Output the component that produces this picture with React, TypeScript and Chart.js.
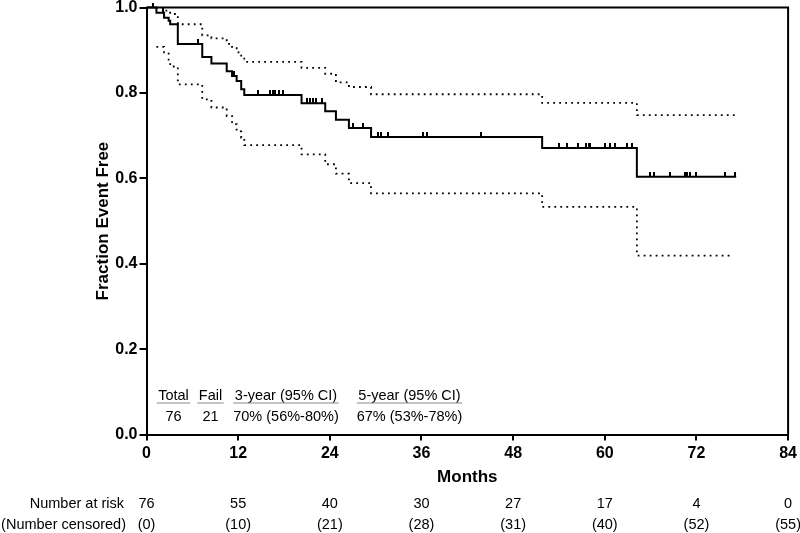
import { useEffect, useRef } from "react";
import { Chart, registerables } from "chart.js";

Chart.register(...registerables);

// ---- Data ----
const months = [0, 12, 24, 36, 48, 60, 72, 84];
const numberAtRisk = [76, 55, 40, 30, 27, 17, 4, 0];
const numberCensored = [0, 10, 21, 28, 31, 40, 52, 55];

const survTime = [0, 1.3, 2.3, 2.9, 3.1, 4.1, 7.3, 8.5, 10.5, 11.2, 11.8, 12.4, 12.8, 20.3, 23.4, 24.8, 26.5, 29.4, 51.8, 64.2, 77.2];
const survProb = [1.0, 0.988, 0.976, 0.969, 0.961, 0.915, 0.884, 0.869, 0.851, 0.84, 0.828, 0.809, 0.795, 0.776, 0.757, 0.737, 0.718, 0.697, 0.671, 0.604, 0.604];

const upperTime = [1.3, 2.3, 3.1, 4.1, 7.3, 8.5, 10.5, 11.2, 11.8, 12.4, 12.8, 20.3, 23.4, 24.8, 26.5, 29.4, 51.8, 64.2, 77.0];
const upperProb = [1.0, 0.993, 0.985, 0.961, 0.935, 0.928, 0.915, 0.905, 0.895, 0.885, 0.873, 0.859, 0.845, 0.825, 0.814, 0.797, 0.777, 0.748, 0.748];

const lowerTime = [1.3, 2.3, 2.9, 3.1, 4.1, 7.3, 8.5, 10.5, 11.2, 11.8, 12.4, 12.8, 20.3, 23.4, 24.8, 26.5, 29.4, 51.8, 64.2, 76.6];
const lowerProb = [0.908, 0.895, 0.878, 0.862, 0.82, 0.785, 0.766, 0.746, 0.727, 0.71, 0.695, 0.678, 0.656, 0.633, 0.611, 0.589, 0.565, 0.533, 0.419, 0.419];

const censorTimes = [0.9, 2.1, 6.8, 11.4, 14.6, 16.2, 16.5, 16.8, 17.3, 17.9, 21.0, 21.4, 21.8, 22.2, 23.0, 27.0, 28.3, 30.3, 30.7, 31.6, 36.2, 36.7, 43.8, 54.0, 55.0, 56.5, 57.6, 57.9, 58.1, 60.0, 60.7, 61.4, 62.9, 63.5, 65.9, 66.4, 68.5, 70.5, 70.8, 71.2, 72.0, 75.7, 77.1];

const statsHeader = ["Total", "Fail", "3-year (95% CI)", "5-year (95% CI)"];
const statsRow = ["76", "21", "70% (56%-80%)", "67% (53%-78%)"];

const rowLabels = ["Number at risk", "(Number censored)"];

const FONT = "'Liberation Sans', Arial, Helvetica, sans-serif";

function survAt(t: number): number {
  let v = survProb[0];
  for (let i = 0; i < survTime.length; i++) {
    if (survTime[i] <= t) v = survProb[i];
  }
  return v;
}

const extrasPlugin = {
  id: "kmExtras",
  afterDraw(chart: any) {
    const { ctx, chartArea } = chart;
    const { left, right, top, bottom } = chartArea;
    const xs = chart.scales.x;
    ctx.save();
    // frame top and right
    ctx.strokeStyle = "#000";
    ctx.lineWidth = 2;
    ctx.beginPath();
    ctx.moveTo(left, top);
    ctx.lineTo(right, top);
    ctx.lineTo(right, bottom);
    ctx.stroke();

    // stats table inside the plot
    ctx.font = `14.5px ${FONT}`;
    ctx.fillStyle = "#000";
    ctx.textAlign = "center";
    ctx.textBaseline = "alphabetic";
    const colCenters = [27, 64, 139.5, 263];
    statsHeader.forEach((h, i) => {
      const cx = left + colCenters[i];
      ctx.fillText(h, cx, bottom - 35);
      const w = ctx.measureText(h).width;
      ctx.strokeStyle = "#8a8a8a";
      ctx.lineWidth = 1;
      ctx.beginPath();
      ctx.moveTo(cx - w / 2 - 1.5, bottom - 31.5);
      ctx.lineTo(cx + w / 2 + 1.5, bottom - 31.5);
      ctx.stroke();
    });
    statsRow.forEach((v, i) => {
      ctx.fillText(v, left + colCenters[i], bottom - 14);
    });

    // number at risk table
    ctx.textAlign = "right";
    ctx.fillText(rowLabels[0], 124, 508.3);
    ctx.fillText(rowLabels[1], 126, 528.5);
    ctx.textAlign = "center";
    months.forEach((m, i) => {
      const px = xs.getPixelForValue(m);
      ctx.fillText(String(numberAtRisk[i]), px, 508.3);
      ctx.fillText(`(${numberCensored[i]})`, px, 528.5);
    });
    ctx.restore();
  },
};

export default function App() {
  const canvasRef = useRef<HTMLCanvasElement | null>(null);

  useEffect(() => {
    document.body.style.margin = "0";
    const canvas = canvasRef.current;
    if (!canvas) return;

    const tick = document.createElement("canvas");
    tick.width = 2;
    tick.height = 10;
    const tctx = tick.getContext("2d");
    if (tctx) {
      tctx.fillStyle = "#000";
      tctx.fillRect(0, 0, 2, 5);
    }

    Chart.defaults.font.family = FONT;
    Chart.defaults.color = "#000";

    const dotted = {
      borderColor: "#000",
      borderWidth: 1.8,
      borderDash: [1.8, 4.2],
      borderCapStyle: "butt" as const,
      stepped: true,
      pointRadius: 0,
      fill: false,
    };

    const chart = new Chart(canvas, {
      type: "line",
      data: {
        datasets: [
          {
            label: "Survival",
            data: survTime.map((t, i) => ({ x: t, y: survProb[i] })),
            borderColor: "#000",
            borderWidth: 2,
            stepped: true,
            pointRadius: 0,
            fill: false,
            clip: false as any,
          },
          {
            label: "Censored",
            data: censorTimes.map((t) => ({ x: t, y: survAt(t) })),
            showLine: false,
            pointStyle: tick as any,
            pointRadius: 3,
            clip: false as any,
          },
          {
            label: "Upper 95% CI",
            data: upperTime.map((t, i) => ({ x: t, y: upperProb[i] })),
            ...dotted,
          },
          {
            label: "Lower 95% CI",
            data: lowerTime.map((t, i) => ({ x: t, y: lowerProb[i] })),
            ...dotted,
          },
        ],
      },
      options: {
        animation: false,
        responsive: true,
        maintainAspectRatio: false,
        layout: { padding: { left: 0, top: 6, right: 11.7, bottom: 0 } },
        plugins: {
          legend: { display: false },
          tooltip: { enabled: false },
        },
        scales: {
          x: {
            type: "linear",
            min: 0,
            max: 84,
            ticks: {
              stepSize: 12,
              font: { size: 16, weight: "bold" },
              color: "#000",
              padding: 3,
              maxRotation: 0,
            },
            grid: {
              drawOnChartArea: false,
              drawTicks: true,
              tickLength: 6,
              color: "#000",
              lineWidth: 2,
            },
            border: { color: "#000", width: 2 },
            title: {
              display: true,
              text: "Months",
              font: { size: 17, weight: "bold" },
              color: "#000",
              padding: { top: 0, bottom: 45 },
            },
            afterFit: (scale: any) => {
              scale.height = 98.5;
            },
          },
          y: {
            type: "linear",
            min: 0,
            max: 1,
            ticks: {
              stepSize: 0.2,
              font: { size: 16, weight: "bold", lineHeight: 0.7 },
              color: "#000",
              padding: 2,
              callback: (v: any) => Number(v).toFixed(1),
            },
            grid: {
              drawOnChartArea: false,
              drawTicks: true,
              tickLength: 7,
              color: "#000",
              lineWidth: 2,
            },
            border: { color: "#000", width: 2 },
            title: {
              display: true,
              text: "Fraction Event Free",
              font: { size: 17, weight: "bold" },
              color: "#000",
              padding: { top: 93, bottom: 0 },
            },
            afterFit: (scale: any) => {
              scale.width = 146.5;
            },
          },
        },
      },
      plugins: [extrasPlugin],
    });

    return () => chart.destroy();
  }, []);

  return (
    <div style={{ position: "relative", width: 800, height: 533 }}>
      <canvas ref={canvasRef} />
    </div>
  );
}
